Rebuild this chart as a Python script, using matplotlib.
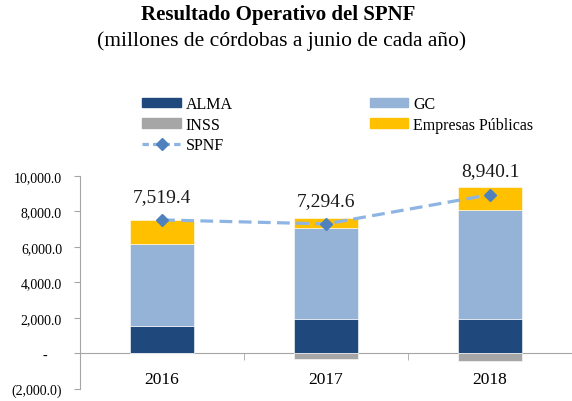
import matplotlib.pyplot as plt
import numpy as np
from matplotlib.lines import Line2D
from matplotlib.patches import Patch

plt.rcParams['font.family'] = ['Liberation Serif', 'DejaVu Serif']

years = ["2016", "2017", "2018"]
alma = [1550, 1950, 1960]
gc = [4600, 5090, 6100]
inss = [0, -335, -410]
empresas = [1370, 590, 1290]
spnf = [7519.4, 7294.6, 8940.1]

c_alma = "#1F497D"
c_gc = "#95B3D7"
c_inss = "#A6A6A6"
c_emp = "#FFC000"
c_line = "#8DB4E2"
c_mark = "#4F81BD"

fig = plt.figure(figsize=(5.72, 4.02), dpi=100)
ax = fig.add_axes([0.14, 0.03, 0.86, 0.53])

x = np.arange(len(years))
w = 0.39
alma_a = np.array(alma)
gc_a = np.array(gc)

ax.bar(x, alma, w, color=c_alma, edgecolor="white", linewidth=0.4, zorder=2)
ax.bar(x, gc, w, bottom=alma_a, color=c_gc, edgecolor="white", linewidth=0.4, zorder=2)
ax.bar(x, empresas, w, bottom=alma_a + gc_a, color=c_emp, edgecolor="white", linewidth=0.4, zorder=2)
ax.bar(x, inss, w, color=c_inss, edgecolor="white", linewidth=0.4, zorder=2)

ax.plot(x, spnf, color=c_line, lw=2.3, ls=(0, (4, 2)), zorder=3)
ax.plot(x, spnf, ls="none", marker="D", ms=6.3, color=c_mark, zorder=4)

for xi, v in zip(x, spnf):
    ax.annotate(f"{v:,.1f}", (xi, v), xytext=(0, 17), textcoords="offset points",
                ha="center", va="center", fontsize=14, color="#1a1a1a")

ax.set_xlim(-0.5, 2.5)
ax.set_ylim(-2000, 10000)

yt = [-2000, 0, 2000, 4000, 6000, 8000, 10000]
ylabels = ["(2,000.0)", "-    ", "2,000.0", "4,000.0", "6,000.0", "8,000.0", "10,000.0"]
ax.set_yticks(yt)
ax.set_yticklabels(ylabels, fontsize=10)
ax.tick_params(axis="y", length=4, color="#A6A6A6", pad=9)

ax.spines["top"].set_visible(False)
ax.spines["right"].set_visible(False)
ax.spines["left"].set_color("#A6A6A6")
ax.spines["bottom"].set_color("#A6A6A6")
ax.spines["bottom"].set_position(("data", 0))
ax.spines["bottom"].set_zorder(1)

ax.set_xticks(x)
ax.set_xticklabels(years, fontsize=12.5)
ax.tick_params(axis="x", length=0, pad=13)
ax.set_xticks([0.5, 1.5], minor=True)
ax.tick_params(axis="x", which="minor", length=5, color="#A6A6A6")

fig.text(0.486, 0.963, "Resultado Operativo del SPNF", ha="center", va="center",
         fontsize=15, fontweight="bold")
fig.text(0.493, 0.898, "(millones de córdobas a junio de cada año)", ha="center", va="center",
         fontsize=15.5)

handles = [
    Patch(color=c_alma, label="ALMA"),
    Patch(color=c_inss, label="INSS"),
    Line2D([], [], color=c_line, lw=2.3, ls=(0, (2, 1.3)), marker="D", ms=6,
           markerfacecolor=c_mark, markeredgecolor=c_mark, label="SPNF"),
    Patch(color=c_gc, label="GC"),
    Patch(color=c_emp, label="Empresas Públicas"),
]
fig.legend(handles=handles, ncol=2, loc="upper left", bbox_to_anchor=(0.235, 0.778),
           frameon=False, fontsize=11.5, handlelength=2.4, handleheight=0.5,
           handletextpad=0.3, labelspacing=0.28, columnspacing=8.6, borderpad=0)

plt.savefig("out.png", dpi=100)
